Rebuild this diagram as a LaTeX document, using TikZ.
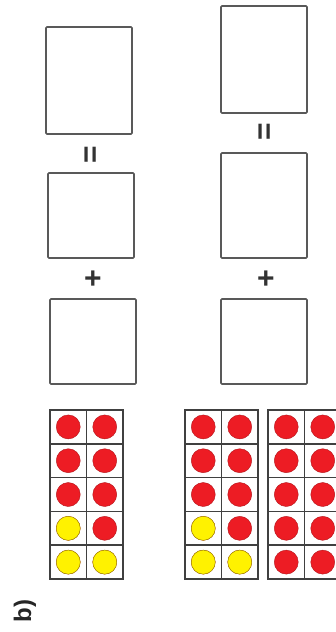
\documentclass[tikz,border=0pt]{standalone}
\usepackage{fontspec}
\setsansfont{Liberation Sans}
\usetikzlibrary{positioning}

\definecolor{dotred}{HTML}{ED1C24}
\definecolor{dotyellow}{HTML}{FFF200}

\begin{document}
\begin{tikzpicture}[
  x=1pt, y=-1pt,
  font=\sffamily\bfseries,
  answer/.style={draw=black!65, line width=1.7pt, rounded corners=1pt, inner sep=0pt, minimum width=86pt},
  sign/.style={text=black!80, inner sep=0pt, font=\sffamily\bfseries\fontsize{30}{34}\selectfont},
  grid/.style={draw=black!75, line width=1.6pt},
  reddot/.style={fill=dotred, draw=dotred!75!black, line width=0.4pt},
  yellowdot/.style={fill=dotyellow, draw=dotyellow!60!black, line width=0.4pt}
]
\useasboundingbox (0,0) rectangle (336,632);
\clip (0,0) rectangle (336,632);

% Cell size of the ten-frames.
\def\cw{36.5}
\def\ch{33.8}
\def\rad{12}
\def\ytop{410}

% Empty answer boxes, left column.
\node[answer, minimum height=107pt] (sum1) at (89,80.5) {};
\node[answer, minimum height=85pt] (add1) at (91,215.5) {};
\node[answer, minimum height=85pt] (add2) at (93,341.5) {};

% Empty answer boxes, right column.
\node[answer, minimum height=107pt] (sum2) at (264,59.5) {};
\node[answer, minimum height=105pt] (add3) at (264,205.5) {};
\node[answer, minimum height=85pt] (add4) at (264,341.5) {};

% Signs between the boxes (page is turned).
\node[sign, rotate=90] (eq1) at (93,155) {=};
\node[sign, rotate=90] (eq2) at (267,132) {=};
\node[sign] (plus1) at (93,280) {+};
\node[sign] (plus2) at (266,280) {+};

% Ten-frames, all counters red first.
\foreach \fx in {50,185,268} {
  \foreach \r in {0,...,4}
    \foreach \c in {0,1}
      \draw[reddot] ({\fx+(\c+0.5)*\cw},{\ytop+(\r+0.5)*\ch}) circle (\rad);
  \draw[grid] (\fx,\ytop) rectangle ({\fx+2*\cw},{\ytop+5*\ch});
  \draw[grid] ({\fx+\cw},\ytop) -- ({\fx+\cw},{\ytop+5*\ch});
  \foreach \r in {1,...,4}
    \draw[grid] (\fx,{\ytop+\r*\ch}) -- ({\fx+2*\cw},{\ytop+\r*\ch});
}

% Yellow counters in the first two frames.
\foreach \fx in {50,185}
  \foreach \r/\c in {3/0,4/0,4/1}
    \draw[yellowdot] ({\fx+(\c+0.5)*\cw},{\ytop+(\r+0.5)*\ch}) circle (\rad);

% Part label.
\node[rotate=90, text=black!85, inner sep=0pt, font=\sffamily\bfseries\fontsize{24}{28}\selectfont] (part) at (25,611) {b)};

\end{tikzpicture}
\end{document}
